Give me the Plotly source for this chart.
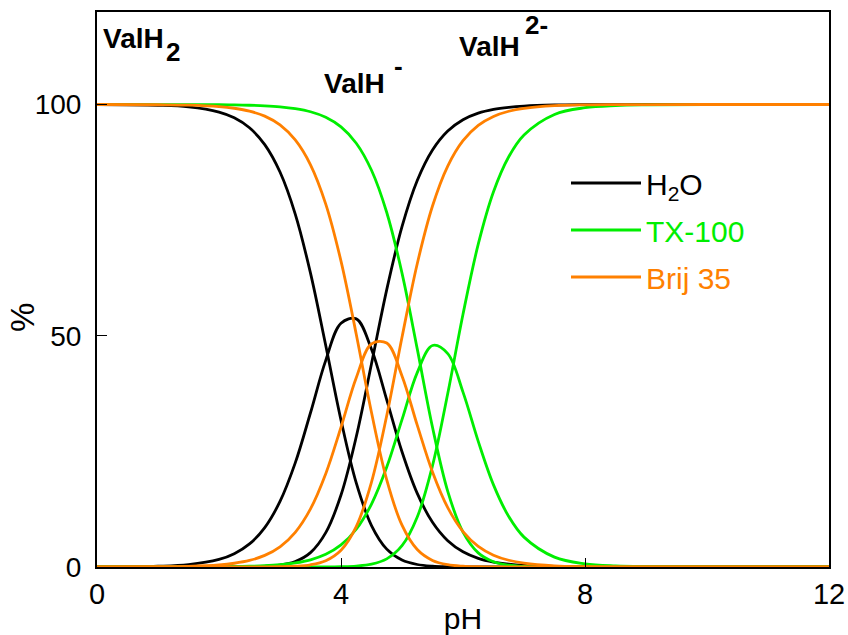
import plotly.graph_objects as go

# pH grid shared by all curves
ph = [0, 1, 1.5, 2, 2.25, 2.5, 2.75, 3, 3.25, 3.5, 3.75, 4, 4.25, 4.5, 4.75,
      5, 5.25, 5.5, 5.75, 6, 6.25, 6.5, 6.75, 7, 7.5, 8, 8.5, 9, 10, 12]

# H2O (%)
h2o_valh2 = [99.98, 99.83, 99.48, 98.36, 97.12, 94.97, 91.33, 85.40, 76.31, 63.53, 47.89,
             31.75, 18.18, 8.97, 3.87, 1.50, 0.54, 0.18, 0.06, 0.02, 0, 0, 0, 0, 0, 0, 0, 0, 0, 0]
h2o_valh = [0.02, 0.17, 0.52, 1.63, 2.87, 4.99, 8.52, 14.18, 22.51, 33.35, 44.68,
            52.70, 53.65, 47.08, 36.15, 24.93, 15.92, 9.66, 5.68, 3.28, 1.87, 1.06, 0.60,
            0.34, 0.11, 0.03, 0.01, 0, 0, 0]
h2o_val2 = [0, 0, 0, 0.01, 0.02, 0.05, 0.14, 0.42, 1.18, 3.11, 7.42,
            15.56, 28.16, 43.94, 59.98, 73.57, 83.55, 90.15, 94.26, 96.70, 98.13, 98.94, 99.40,
            99.66, 99.89, 99.97, 99.99, 100, 100, 100]

# TX-100 (%)
tx_valh2 = [100, 99.99, 99.98, 99.95, 99.91, 99.84, 99.72, 99.50, 99.11, 98.43, 97.24,
            95.16, 91.63, 85.78, 76.65, 63.55, 47.16, 30.22, 16.37, 7.54, 3.05, 1.12, 0.39,
            0.13, 0.01, 0, 0, 0, 0, 0]
tx_valh = [0, 0.01, 0.02, 0.05, 0.09, 0.16, 0.28, 0.50, 0.88, 1.56, 2.74,
           4.77, 8.16, 13.60, 21.60, 31.85, 42.03, 47.89, 46.13, 37.81, 27.16, 17.75, 10.91,
           6.46, 2.14, 0.69, 0.22, 0.07, 0.01, 0]
tx_val2 = [0, 0, 0, 0, 0, 0, 0, 0, 0, 0.01, 0.02,
           0.07, 0.21, 0.62, 1.76, 4.60, 10.80, 21.89, 37.50, 54.65, 69.80, 81.13, 88.70,
           93.41, 97.85, 99.31, 99.78, 99.93, 99.99, 100]

# Brij 35 (%)
brij_valh2 = [100, 99.95, 99.86, 99.55, 99.19, 98.57, 97.48, 95.58, 92.33, 86.96, 78.47,
              66.14, 50.33, 33.39, 18.84, 9.04, 3.77, 1.42, 0.50, 0.17, 0.05, 0, 0,
              0, 0, 0, 0, 0, 0, 0]
brij_valh = [0, 0.05, 0.14, 0.45, 0.81, 1.42, 2.51, 4.37, 7.51, 12.57, 20.17,
             30.22, 40.92, 48.26, 48.42, 41.31, 30.66, 20.53, 12.82, 7.67, 4.47, 2.56, 1.46,
             0.83, 0.26, 0.08, 0.03, 0.01, 0, 0]
brij_val2 = [0, 0, 0, 0, 0, 0.01, 0.02, 0.05, 0.16, 0.48, 1.37,
             3.64, 8.75, 18.35, 32.74, 49.66, 65.57, 78.05, 86.68, 92.17, 95.48, 97.42, 98.54,
             99.17, 99.74, 99.92, 99.97, 99.99, 100, 100]

series = [
    ("H<sub>2</sub>O", "#000000", [h2o_valh2, h2o_valh, h2o_val2]),
    ("TX-100", "#00ee00", [tx_valh2, tx_valh, tx_val2]),
    ("Brij 35", "#ff8000", [brij_valh2, brij_valh, brij_val2]),
]

x_ticks = [0, 4, 8, 12]
y_ticks = [0, 50, 100]

fig = go.Figure()
for name, color, curves in series:
    for i, ys in enumerate(curves):
        fig.add_trace(go.Scatter(
            x=ph, y=ys, mode="lines", name=f"<span style='color:{color}'>{name}</span>",
            line=dict(color=color, width=2.8, shape="spline", smoothing=1.0),
            showlegend=(i == 0), legendgroup=name, hoverinfo="skip"))

FONT = "Liberation Sans, Arial, sans-serif"
W, H = 848, 635
L, R, T, B = 97, 19, 12, 68
PW, PH = W - L - R, H - T - B


def px(xp):
    return (xp - L) / PW


def py(yp):
    return (H - B - yp) / PH


annots = [
    ("ValH", 101, 39, 28), ("2", 164, 52, 26),
    ("ValH", 322, 83, 28), ("-", 392, 66, 26),
    ("ValH", 457, 46, 28), ("2-", 523, 25, 26),
]
for txt, ax, ay, fs in annots:
    fig.add_annotation(text=f"<b>{txt}</b>", xref="paper", yref="paper",
                       x=px(ax), y=py(ay), xanchor="left", yanchor="middle",
                       showarrow=False, font=dict(family=FONT, size=fs, color="black"))

# y axis title placed like the reference (below the plot centre)
fig.add_annotation(text="%", xref="paper", yref="paper", x=px(23), y=py(318),
                   xanchor="center", yanchor="middle", textangle=-90, showarrow=False,
                   font=dict(family=FONT, size=33, color="black"))

fig.update_layout(
    width=W, height=H,
    margin=dict(l=L, r=R, t=T, b=B, autoexpand=False),
    paper_bgcolor="white", plot_bgcolor="white",
    font=dict(family=FONT, color="black"),
    showlegend=True,
    legend=dict(x=px(566), y=py(157), xanchor="left", yanchor="top",
                bgcolor="rgba(0,0,0,0)", font=dict(size=30, family=FONT),
                itemwidth=70, tracegroupgap=5),
)
fig.update_xaxes(range=[0, 12], tickvals=x_ticks, ticktext=[str(v) for v in x_ticks],
                 ticks="inside", ticklen=9, tickwidth=1, tickcolor="black",
                 showline=True, linecolor="black", linewidth=2, mirror=True,
                 showgrid=False, zeroline=False, automargin=False,
                 tickfont=dict(size=29, family=FONT),
                 title=dict(text="pH", font=dict(size=30, family=FONT), standoff=0))
fig.update_yaxes(range=[0, 120], tickvals=y_ticks, ticktext=[str(v) for v in y_ticks],
                 ticks="inside", ticklen=10, tickwidth=1, tickcolor="black",
                 showline=True, linecolor="black", linewidth=2, mirror=True,
                 showgrid=False, zeroline=False, ticklabelstandoff=8, automargin=False,
                 tickfont=dict(size=28, family=FONT))

fig.write_html("out.html")
